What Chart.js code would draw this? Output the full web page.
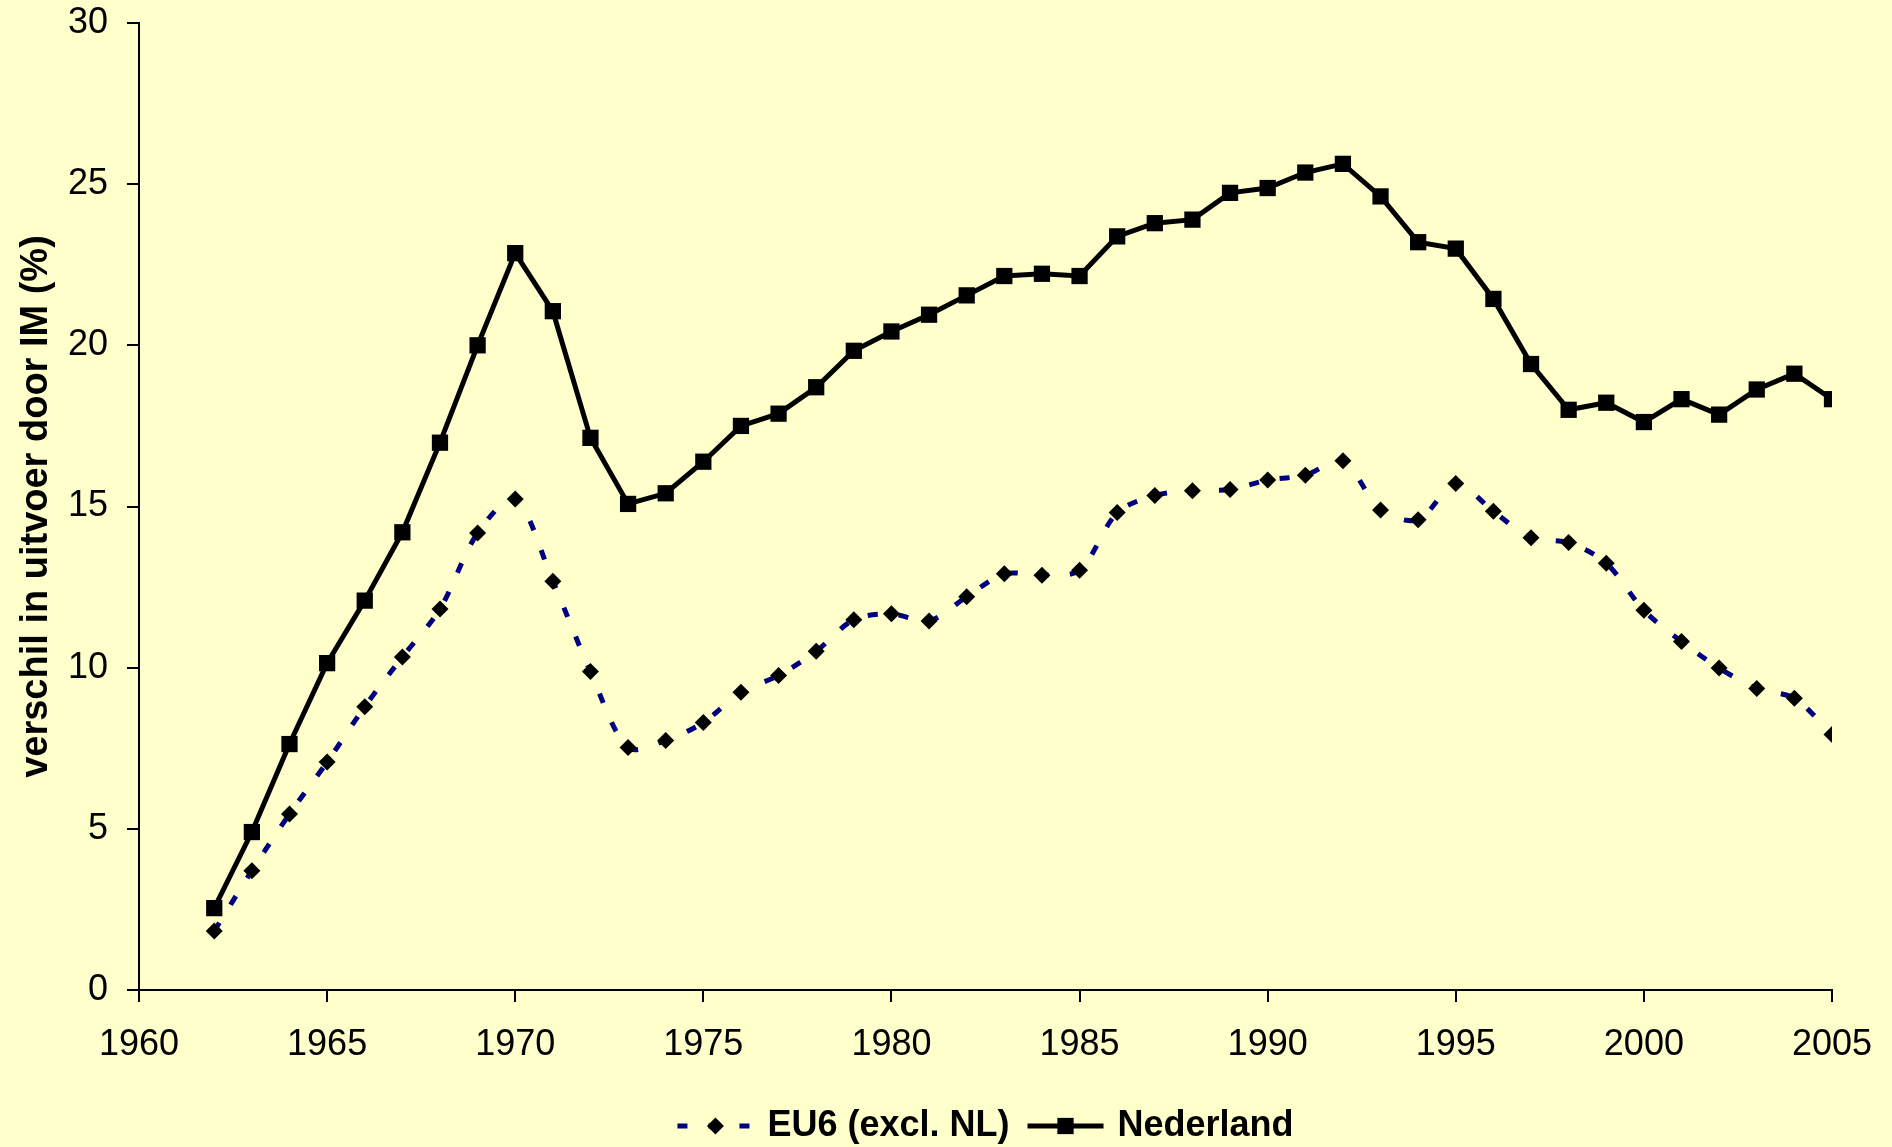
<!DOCTYPE html>
<html>
<head>
<meta charset="utf-8">
<title>Verschil in uitvoer door IM</title>
<script src="https://cdn.jsdelivr.net/npm/chart.js@4.4.1/dist/chart.umd.min.js"></script>
<style>
    html, body { margin: 0; padding: 0; background: #FFFFCC; }
    #wrap { width: 1892px; height: 1147px; position: relative; }
</style>
</head>
<body>
<div id="wrap"><canvas id="imChart"></canvas></div>
<script>
// Data
const years = [1962, 1963, 1964, 1965, 1966, 1967, 1968, 1969, 1970, 1971,
    1972, 1973, 1974, 1975, 1976, 1977, 1978, 1979, 1980, 1981,
    1982, 1983, 1984, 1985, 1986, 1987, 1988, 1989, 1990, 1991,
    1992, 1993, 1994, 1995, 1996, 1997, 1998, 1999, 2000, 2001,
    2002, 2003, 2004, 2005];

const eu6Values = [1.83, 3.7, 5.46, 7.07, 8.79, 10.33, 11.82, 14.18, 15.23, 12.68,
    9.88, 7.52, 7.74, 8.3, 9.24, 9.76, 10.51, 11.49, 11.67, 11.45,
    12.2, 12.91, 12.87, 13.02, 14.81, 15.34, 15.49, 15.53, 15.82, 15.97,
    16.42, 14.89, 14.59, 15.71, 14.85, 14.03, 13.88, 13.24, 11.78, 10.81,
    9.99, 9.35, 9.05, 7.93];

const nlValues = [2.54, 4.9, 7.63, 10.14, 12.08, 14.2, 16.98, 20.0, 22.86, 21.06,
    17.13, 15.08, 15.41, 16.39, 17.5, 17.88, 18.7, 19.83, 20.43, 20.95,
    21.55, 22.15, 22.22, 22.15, 23.38, 23.79, 23.9, 24.73, 24.88, 25.36,
    25.63, 24.62, 23.2, 23.0, 21.44, 19.42, 18.0, 18.22, 17.62, 18.33,
    17.85, 18.63, 19.12, 18.33];

const seriesLabels = ['EU6 (excl. NL)', 'Nederland'];
const yTitle = 'verschil in uitvoer door IM (%)';

const FONT = "'Liberation Sans', Arial, Helvetica, sans-serif";

// Legend drawn underneath the plot: dashed line / solid line with marker, then text
const bottomLegend = {
    id: 'bottomLegend',
    afterDraw(chart) {
        const ctx = chart.ctx;
        const area = chart.chartArea;
        const sampleLen = 76;
        const gapText = 14;
        const gapItems = 18;
        const y = 1126;

        ctx.save();
        ctx.font = 'bold 36px ' + FONT;
        const items = chart.data.datasets.map(ds => ({ ds, w: ctx.measureText(ds.label).width }));
        let total = 0;
        items.forEach((it, i) => {
            total += sampleLen + gapText + it.w + (i < items.length - 1 ? gapItems : 0);
        });
        let x = (area.left + area.right) / 2 - total / 2;

        items.forEach(it => {
            const ds = it.ds;
            // line sample
            ctx.save();
            ctx.strokeStyle = ds.borderColor;
            ctx.lineWidth = ds.borderWidth;
            ctx.setLineDash(ds.borderDash || []);
            ctx.beginPath();
            ctx.moveTo(x, y);
            ctx.lineTo(x + sampleLen, y);
            ctx.stroke();
            ctx.restore();
            // marker
            ctx.save();
            ctx.fillStyle = ds.pointBackgroundColor;
            ctx.strokeStyle = ds.pointBorderColor;
            Chart.helpers.drawPoint(ctx, {
                pointStyle: ds.pointStyle,
                radius: ds.pointRadius,
                rotation: 0,
                borderWidth: 0
            }, x + sampleLen / 2, y);
            ctx.restore();
            // text
            ctx.fillStyle = '#000';
            ctx.textAlign = 'left';
            ctx.textBaseline = 'middle';
            ctx.fillText(ds.label, x + sampleLen + gapText, y);
            x += sampleLen + gapText + it.w + gapItems;
        });
        ctx.restore();
    }
};

const ctx = document.getElementById('imChart').getContext('2d');
const imChart = new Chart(ctx, {
    type: 'line',
    data: {
        datasets: [
            {
                label: seriesLabels[0],
                data: years.map((yr, i) => ({ x: yr, y: eu6Values[i] })),
                borderColor: '#000080',
                borderWidth: 5,
                borderDash: [10, 21],
                tension: 0.3,
                pointStyle: 'rectRot',
                pointRadius: 8.5,
                pointBackgroundColor: '#000000',
                pointBorderColor: '#000000',
                pointBorderWidth: 0,
                fill: false
            },
            {
                label: seriesLabels[1],
                data: years.map((yr, i) => ({ x: yr, y: nlValues[i] })),
                borderColor: '#000000',
                borderWidth: 5,
                tension: 0,
                pointStyle: 'rect',
                pointRadius: 11.5,
                pointBackgroundColor: '#000000',
                pointBorderColor: '#000000',
                pointBorderWidth: 0,
                fill: false
            }
        ]
    },
    options: {
        responsive: true,
        maintainAspectRatio: false,
        animation: false,
        layout: {
            padding: { top: 23, right: 60, bottom: 0, left: 0 }
        },
        scales: {
            x: {
                type: 'linear',
                min: 1960,
                max: 2005,
                afterFit: (scale) => {
                    scale.height = 157;
                    scale.paddingLeft = 0;
                    scale.paddingRight = 0;
                },
                border: { display: true, color: '#000', width: 2 },
                grid: {
                    display: true,
                    drawOnChartArea: false,
                    drawTicks: true,
                    tickLength: 12,
                    color: '#000',
                    lineWidth: 2
                },
                ticks: {
                    stepSize: 5,
                    padding: 21,
                    color: '#000',
                    maxRotation: 0,
                    font: { family: FONT, size: 36 },
                    callback: (value) => String(value)
                }
            },
            y: {
                min: 0,
                max: 30,
                afterFit: (scale) => {
                    scale.width = 139;
                    scale.paddingTop = 0;
                    scale.paddingBottom = 0;
                },
                border: { display: true, color: '#000', width: 2 },
                grid: {
                    display: true,
                    drawOnChartArea: false,
                    drawTicks: true,
                    tickLength: 12,
                    color: '#000',
                    lineWidth: 2
                },
                ticks: {
                    stepSize: 5,
                    padding: 19,
                    color: '#000',
                    font: { family: FONT, size: 36 }
                },
                title: {
                    display: true,
                    text: yTitle,
                    color: '#000',
                    padding: { top: 14, bottom: 0 },
                    font: { family: FONT, size: 38, weight: 'bold' }
                }
            }
        },
        plugins: {
            legend: { display: false },
            tooltip: { enabled: false }
        }
    },
    plugins: [bottomLegend]
});
</script>
</body>
</html>
